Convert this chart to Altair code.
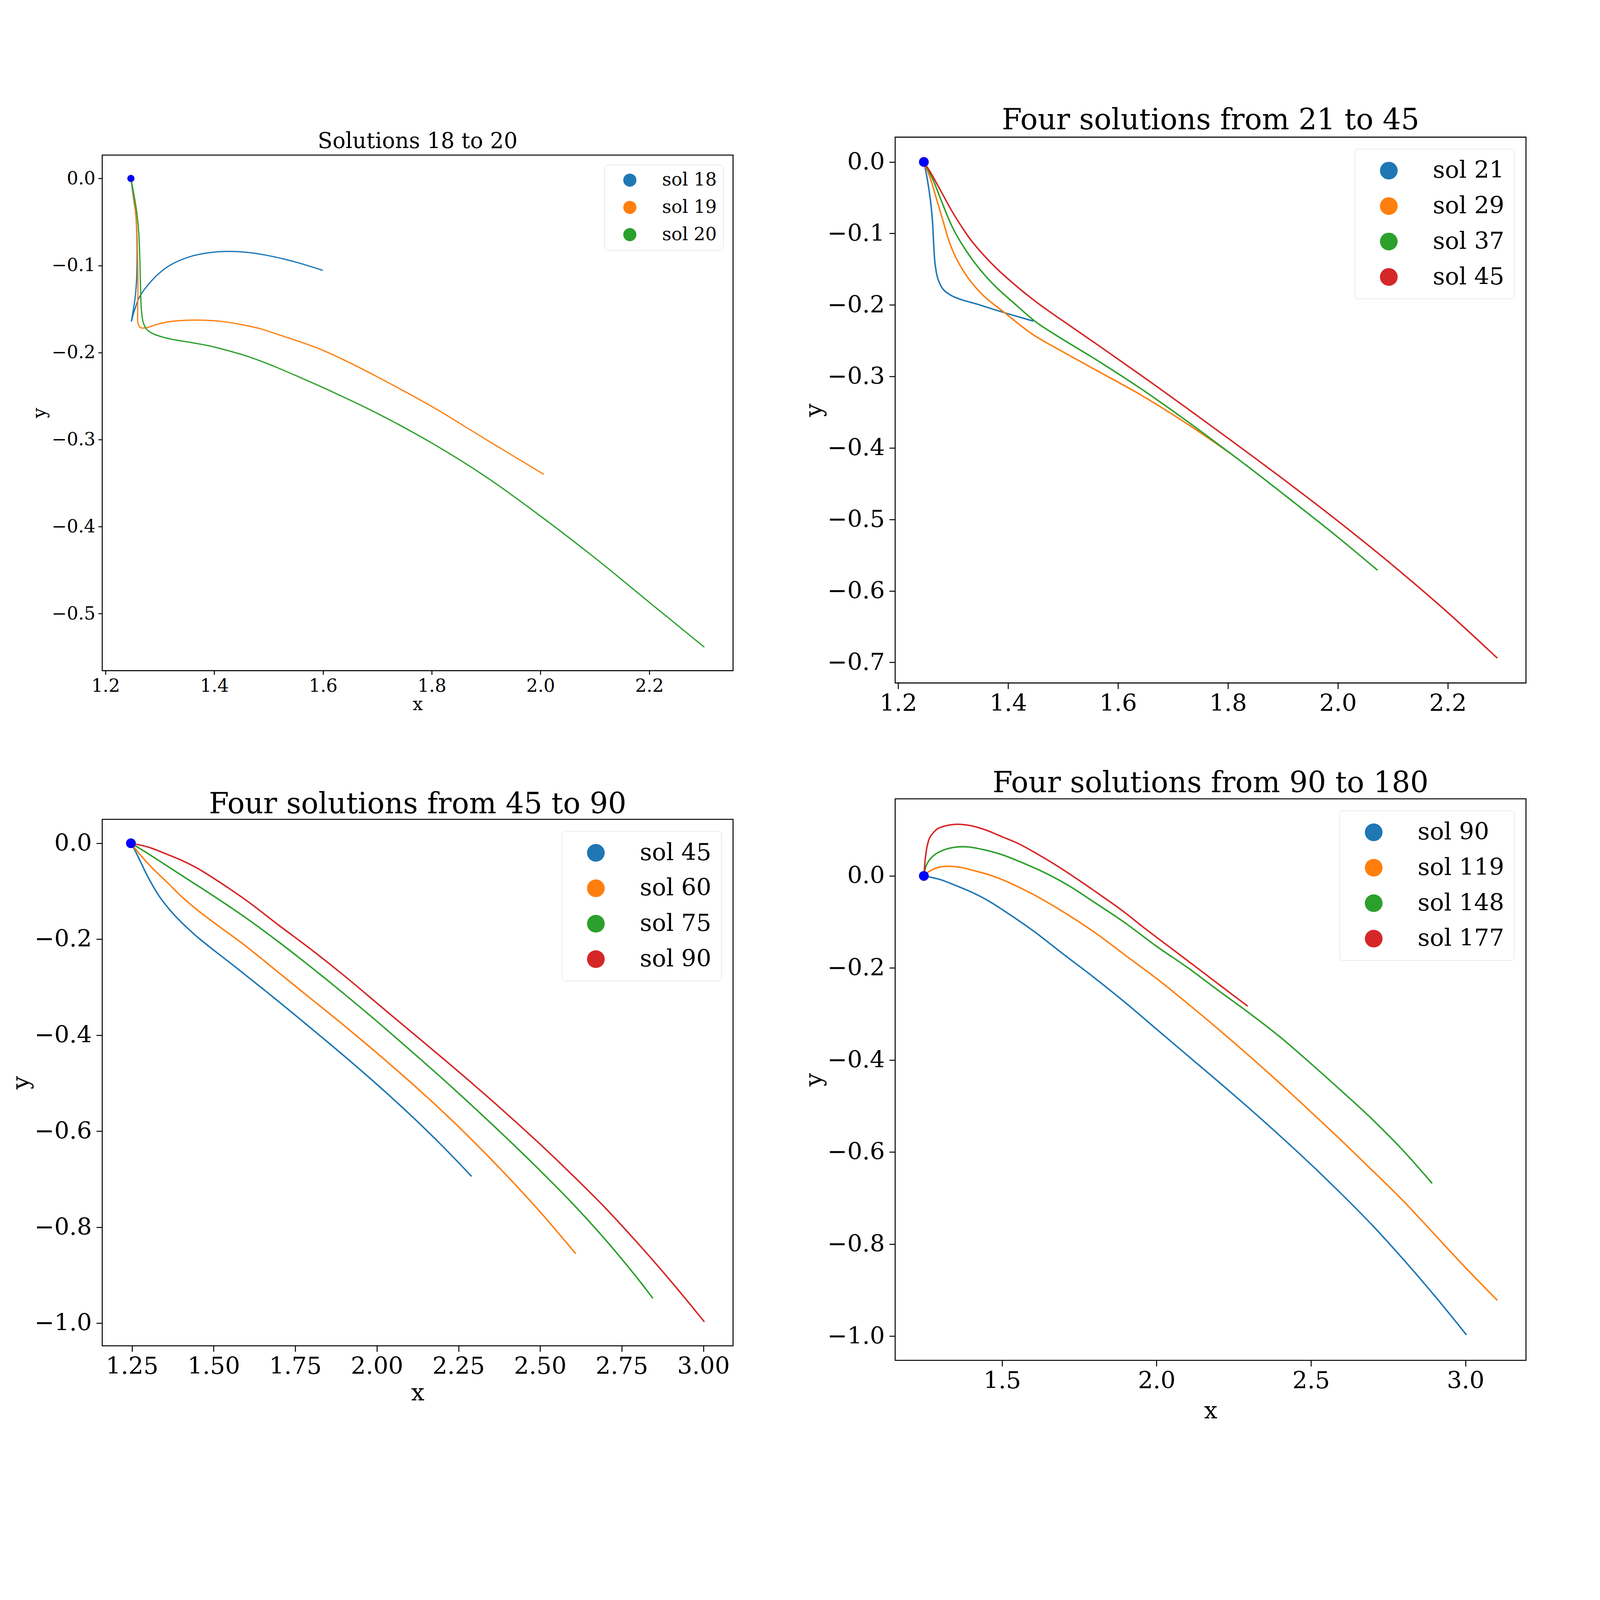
import altair as alt
import pandas as pd

FONT = "DejaVu Serif"
TAB = ["#1f77b4", "#ff7f0e", "#2ca02c", "#d62728"]

# ---------------- data ----------------
START_X = 1.2466
START_Y = 0.0

# panel 1
sol18_x = [1.2466, 1.2473, 1.2520, 1.2555, 1.2574, 1.2578, 1.2567, 1.2536, 1.2503, 1.2475,
           1.2507, 1.2555, 1.2601, 1.2672, 1.2789, 1.2953, 1.3187, 1.3538, 1.3890, 1.4241,
           1.4592, 1.4944, 1.5295, 1.5550, 1.5994]
sol18_y = [0.0, -0.0032, -0.0253, -0.0411, -0.0648, -0.0964, -0.1202, -0.1407, -0.1534, -0.1641,
           -0.1565, -0.1470, -0.1391, -0.1312, -0.1217, -0.1107, -0.0996, -0.0901, -0.0854, -0.0838,
           -0.0848, -0.0880, -0.0928, -0.0970, -0.1055]
sol19_x = [1.2466, 1.2485, 1.2520, 1.2555, 1.2578, 1.2590, 1.2595, 1.2590, 1.2601, 1.2648,
           1.2742, 1.2953, 1.3187, 1.3538, 1.3772, 1.4124, 1.4475, 1.4826, 1.5177, 1.5570,
           1.6000, 1.6500, 1.7000, 1.8000, 1.9000, 2.0060]
sol19_y = [0.0, -0.0063, -0.0221, -0.0411, -0.0648, -0.0964, -0.1280, -0.1518, -0.1676, -0.1715,
           -0.1715, -0.1676, -0.1644, -0.1628, -0.1628, -0.1641, -0.1676, -0.1723, -0.1794, -0.1875,
           -0.1975, -0.2120, -0.2280, -0.2620, -0.3000, -0.3400]
sol20_x = [1.2466, 1.2485, 1.2532, 1.2578, 1.2613, 1.2632, 1.2644, 1.2660, 1.2695, 1.2765,
           1.2883, 1.3070, 1.3304, 1.3538, 1.3890, 1.4241, 1.4592, 1.4944, 1.5178, 1.6000,
           1.7000, 1.8000, 1.9000, 2.0000, 2.1000, 2.2000, 2.3013]
sol20_y = [0.0, -0.0063, -0.0221, -0.0411, -0.0648, -0.0964, -0.1280, -0.1518, -0.1660, -0.1739,
           -0.1787, -0.1826, -0.1858, -0.1881, -0.1921, -0.1976, -0.2040, -0.2119, -0.2179, -0.2403,
           -0.2700, -0.3040, -0.3430, -0.3880, -0.4360, -0.4870, -0.5386]

# panel 2
sol21_x = [1.2466, 1.2527, 1.2585, 1.2623, 1.2643, 1.2670, 1.2720, 1.2816, 1.2970, 1.3163,
           1.3433, 1.3740, 1.4125, 1.4460]
sol21_y = [0.0, -0.0232, -0.0530, -0.0827, -0.1125, -0.1423, -0.1630, -0.1780, -0.1870, -0.1929,
           -0.1988, -0.2063, -0.2152, -0.2226]
sol29_x = [1.2466, 1.2585, 1.2701, 1.2816, 1.2932, 1.3086, 1.3279, 1.3548, 1.3933, 1.4433,
           1.4896, 1.5666, 1.6436, 1.7206, 1.7900, 1.8050]
sol29_y = [0.0, -0.0232, -0.0530, -0.0827, -0.1125, -0.1393, -0.1630, -0.1869, -0.2107, -0.2405,
           -0.2613, -0.2940, -0.3268, -0.3638, -0.3999, -0.4080]
sol37_x = [1.2466, 1.2623, 1.2778, 1.2970, 1.3163, 1.3433, 1.3740, 1.4125, 1.4510, 1.4896,
           1.5666, 1.6436, 1.7206, 1.7900, 1.8500, 1.9200, 2.0000, 2.0720]
sol37_y = [0.0, -0.0232, -0.0530, -0.0887, -0.1155, -0.1452, -0.1720, -0.1988, -0.2241, -0.2435,
           -0.2797, -0.3182, -0.3598, -0.3993, -0.4341, -0.4761, -0.5249, -0.5710]
sol45_x = [1.2466, 1.2585, 1.2778, 1.2970, 1.3163, 1.3355, 1.3740, 1.4125, 1.4510, 1.4896,
           1.5666, 1.6436, 1.7206, 1.8000, 1.9000, 2.0000, 2.1000, 2.2000, 2.2900]
sol45_y = [0.0, -0.0143, -0.0410, -0.0679, -0.0917, -0.1125, -0.1452, -0.1720, -0.1958, -0.2170,
           -0.2578, -0.2994, -0.3418, -0.3863, -0.4433, -0.5023, -0.5643, -0.6303, -0.6940]

# panel 3
sol60_x = [1.2466, 1.28, 1.32, 1.36, 1.40, 1.45, 1.50, 1.60, 1.70, 1.80,
           1.90, 2.00, 2.10, 2.20, 2.30, 2.40, 2.50, 2.609]
sol60_y = [0.0, -0.028, -0.057, -0.083, -0.110, -0.139, -0.165, -0.215, -0.270, -0.325,
           -0.380, -0.437, -0.496, -0.558, -0.624, -0.694, -0.768, -0.855]
sol75_x = [1.2466, 1.30, 1.35, 1.40, 1.50, 1.60, 1.70, 1.80, 1.90, 2.00,
           2.10, 2.20, 2.30, 2.40, 2.50, 2.60, 2.70, 2.80, 2.845]
sol75_y = [0.0, -0.022, -0.044, -0.066, -0.110, -0.156, -0.206, -0.259, -0.314, -0.371,
           -0.430, -0.490, -0.552, -0.616, -0.682, -0.751, -0.826, -0.908, -0.948]
sol90_x = [1.2466, 1.30, 1.35, 1.40, 1.45, 1.50, 1.60, 1.70, 1.80, 1.90,
           2.00, 2.10, 2.20, 2.30, 2.40, 2.50, 2.60, 2.70, 2.80, 2.90, 3.003]
sol90_y = [0.0, -0.008, -0.021, -0.035, -0.052, -0.073, -0.119, -0.171, -0.222, -0.276,
           -0.333, -0.390, -0.447, -0.505, -0.565, -0.627, -0.692, -0.760, -0.834, -0.912, -0.997]

# panel 4
sol119_x = [1.2466, 1.26, 1.29, 1.33, 1.37, 1.40, 1.45, 1.50, 1.60, 1.70, 1.80, 1.90,
            2.00, 2.10, 2.20, 2.30, 2.40, 2.50, 2.60, 2.70, 2.80, 2.90, 3.00, 3.103]
sol119_y = [0.0, 0.008, 0.018, 0.021, 0.018, 0.013, 0.004, -0.008, -0.040, -0.079, -0.123, -0.173,
            -0.223, -0.277, -0.333, -0.391, -0.451, -0.513, -0.576, -0.641, -0.707, -0.779, -0.851, -0.922]
sol148_x = [1.2466, 1.252, 1.26, 1.28, 1.31, 1.35, 1.39, 1.44, 1.50, 1.58, 1.65, 1.72,
            1.80, 1.90, 2.00, 2.10, 2.20, 2.30, 2.40, 2.50, 2.60, 2.70, 2.80, 2.892]
sol148_y = [0.0, 0.018, 0.030, 0.045, 0.056, 0.0625, 0.063, 0.057, 0.046, 0.0245, 0.003, -0.023,
            -0.058, -0.103, -0.153, -0.199, -0.249, -0.298, -0.350, -0.408, -0.468, -0.530, -0.598, -0.668]
sol177_x = [1.2466, 1.249, 1.251, 1.257, 1.265, 1.275, 1.29, 1.31, 1.335, 1.365, 1.40, 1.45,
            1.50, 1.55, 1.60, 1.68, 1.75, 1.82, 1.89, 1.96, 2.03, 2.10, 2.16, 2.21, 2.295]
sol177_y = [0.0, 0.020, 0.036, 0.0637, 0.082, 0.092, 0.102, 0.1075, 0.111, 0.112, 0.109, 0.099,
            0.085, 0.071, 0.053, 0.021, -0.010, -0.0425, -0.076, -0.113, -0.1485, -0.184, -0.2145, -0.240, -0.283]

P1_NAMES = ["sol 18", "sol 19", "sol 20"]
P2_NAMES = ["sol 21", "sol 29", "sol 37", "sol 45"]
P3_NAMES = ["sol 45", "sol 60", "sol 75", "sol 90"]
P4_NAMES = ["sol 90", "sol 119", "sol 148", "sol 177"]

P1_XT = [1.2, 1.4, 1.6, 1.8, 2.0, 2.2]
P1_YT = [0.0, -0.1, -0.2, -0.3, -0.4, -0.5]
P2_XT = [1.2, 1.4, 1.6, 1.8, 2.0, 2.2]
P2_YT = [0.0, -0.1, -0.2, -0.3, -0.4, -0.5, -0.6, -0.7]
P3_XT = [1.25, 1.5, 1.75, 2.0, 2.25, 2.5, 2.75, 3.0]
P3_YT = [0.0, -0.2, -0.4, -0.6, -0.8, -1.0]
P4_XT = [1.5, 2.0, 2.5, 3.0]
P4_YT = [0.0, -0.2, -0.4, -0.6, -0.8, -1.0]


def pad_domain(vals):
    lo, hi = min(vals), max(vals)
    m = 0.05 * (hi - lo)
    return [lo - m, hi + m]


def panel(names, xs_list, ys_list, title, xticks, yticks, xfmt, w, h, fs, tfs, toff,
          lw, dot, tick, xtitle, xlp, ylp, xtp, ytp, leg):
    rows = []
    for n, xs, ys in zip(names, xs_list, ys_list):
        for i, (a, b) in enumerate(zip(xs, ys)):
            rows.append({"label": n, "x": a, "y": b, "i": i})
    df = pd.DataFrame(rows)
    first = df[df["i"] == 0].reset_index(drop=True).rename(columns={"label": "solution"})
    start = pd.DataFrame({"x": [START_X], "y": [START_Y]})

    xscale = alt.Scale(domain=pad_domain(df["x"].tolist()), nice=False, zero=False)
    yscale = alt.Scale(domain=pad_domain(df["y"].tolist()), nice=False, zero=False)

    common = dict(labelFont=FONT, labelFontSize=fs, labelColor="black",
                  titleFont=FONT, titleFontSize=fs, titleFontWeight="normal", titleColor="black",
                  tickSize=tick, tickWidth=3, tickColor="black", grid=False, domain=False,
                  labelFlush=False, labelOverlap=False)
    xaxis = alt.Axis(values=xticks, format=xfmt, title=xtitle, labelPadding=xlp,
                     titlePadding=xtp, **common)
    yaxis = alt.Axis(values=yticks, format=".1f", title="y", labelPadding=ylp,
                     titlePadding=ytp, **common)
    X = alt.X("x:Q", scale=xscale, axis=xaxis)
    Y = alt.Y("y:Q", scale=yscale, axis=yaxis)

    layers = []
    for k, n in enumerate(names):
        sub = df[df["label"] == n]
        layers.append(
            alt.Chart(sub).mark_line(strokeWidth=lw, clip=True, interpolate="catmull-rom",
                                     color=TAB[k]).encode(x=X, y=Y, order=alt.Order("i:Q"))
        )
    kscale = alt.Scale(domain=names, range=TAB[:len(names)])
    keys = alt.Chart(first).mark_circle(size=dot, opacity=1).encode(
        x=X, y=Y, color=alt.Color("solution:N", scale=kscale, legend=alt.Legend(**leg)))
    startdot = alt.Chart(start).mark_circle(size=dot, opacity=1, color="blue").encode(x=X, y=Y)

    return alt.layer(*layers, keys, startdot).properties(
        width=w, height=h,
        title=alt.Title(title, font=FONT, fontSize=tfs, fontWeight="normal", color="black",
                        anchor="middle", baseline="alphabetic", offset=toff, frame="group"),
    )


def legend_full(fs, pad, so, lo, rp, sym, off):
    return dict(title=None, orient="top-right", offset=off, padding=pad, cornerRadius=10,
                strokeColor="#cfcfcf", fillColor="white",
                labelFont=FONT, labelFontSize=fs, labelColor="black", labelLimit=1000,
                symbolType="circle", symbolSize=sym, symbolStrokeWidth=0,
                symbolOffset=so, labelOffset=lo, rowPadding=rp)


W = 1922
p1 = panel(P1_NAMES, [sol18_x, sol19_x, sol20_x], [sol18_y, sol19_y, sol20_y],
           "Solutions 18 to 20", P1_XT, P1_YT, ".1f", W, 1571, 55, 66, -45,
           3.8, 470, 12, "x", 9, 9, 2, 8,
           legend_full(55, 19, 31, 71, 27, 1600, 30))
p2 = panel(P2_NAMES, [sol21_x, sol29_x, sol37_x, sol45_x], [sol21_y, sol29_y, sol37_y, sol45_y],
           "Four solutions from 21 to 45", P2_XT, P2_YT, ".1f", W, 1663, 72, 88, -64,
           4.5, 860, 18, None, 10, 14, 10, 10,
           legend_full(72, 30, 38, 98, 36, 2916, 36))
p3 = panel(P3_NAMES, [sol45_x, sol60_x, sol75_x, sol90_x], [sol45_y, sol60_y, sol75_y, sol90_y],
           "Four solutions from 45 to 90", P3_XT, P3_YT, ".2f", W, 1604, 72, 88, -70,
           4.5, 860, 18, "x", 10, 14, 10, 10,
           legend_full(72, 30, 38, 98, 36, 2916, 36))
p4 = panel(P4_NAMES, [sol90_x, sol119_x, sol148_x, sol177_x], [sol90_y, sol119_y, sol148_y, sol177_y],
           "Four solutions from 90 to 180", P4_XT, P4_YT, ".1f", W, 1711, 72, 88, -68,
           4.5, 860, 18, "x", 10, 14, 20, 10,
           legend_full(72, 30, 38, 98, 36, 2916, 36))

col1 = alt.vconcat(p1, p3, spacing=453, bounds="flush").resolve_scale(
    color="independent").resolve_legend(color="independent")
col2 = alt.vconcat(p2, p4, spacing=353, bounds="flush").resolve_scale(
    color="independent").resolve_legend(color="independent")

chart = alt.hconcat(col1, col2, spacing=207, center=True).resolve_scale(
    color="independent").resolve_legend(color="independent").properties(
    padding={"left": 17, "top": -77, "right": 214, "bottom": 154},
    background="white",
).configure_view(stroke="black", strokeWidth=3)

chart.save("out.html", embed_options={"renderer": "svg", "actions": False})
